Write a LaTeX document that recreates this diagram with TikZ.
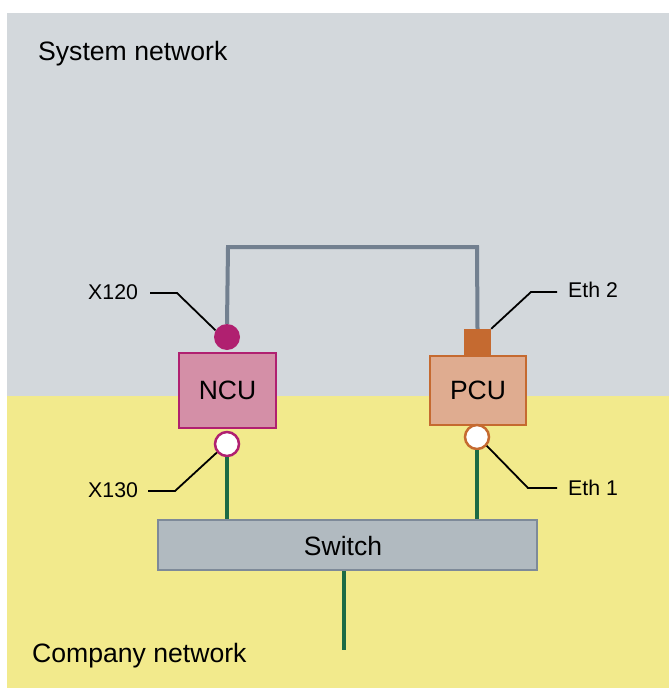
\documentclass[tikz,border=0pt]{standalone}
\usepackage{fontspec}
\setmainfont{Liberation Sans}
\definecolor{sysbg}{HTML}{D3D8DC}
\definecolor{combg}{HTML}{F2EA8C}
\definecolor{netgray}{HTML}{728090}
\definecolor{mag}{HTML}{B02070}
\definecolor{ncufill}{HTML}{D48FA7}
\definecolor{pcufill}{HTML}{DFAC90}
\definecolor{pcuedge}{HTML}{C56A30}
\definecolor{swfill}{HTML}{B1BAC0}
\definecolor{swedge}{HTML}{7E8A99}
\definecolor{netgreen}{HTML}{1C6B45}
\begin{document}
\begin{tikzpicture}[x=1pt,y=-1pt,
  bigtxt/.style={font=\fontsize{26.6}{30}\selectfont, anchor=base west, inner sep=0pt},
  lbl/.style={font=\fontsize{21.3}{25}\selectfont, anchor=base west, inner sep=0pt},
  unitbox/.style={draw, line width=2.5pt, minimum height=72pt, inner sep=0pt, font=\fontsize{26.5}{30}\selectfont},
  port/.style={circle, draw, line width=2.5pt, fill=white, minimum size=24pt, inner sep=0pt},
  leader/.style={draw=black, line width=1.8pt},
  grayline/.style={draw=netgray, line width=4pt},
  greenline/.style={draw=netgreen, line width=4pt}]
\useasboundingbox (0,0) rectangle (669,690);
% backgrounds
\fill[sysbg] (7,13) rectangle (669,396);
\fill[combg] (7,396) rectangle (669,688);
\node[bigtxt] (sysnet) at (38,61) {System network};
\node[bigtxt] (comnet) at (32,662) {Company network};
% units
\node[unitbox, draw=mag, fill=ncufill, minimum width=97pt, minimum height=75pt] (ncu) at (227.5,390.5) {NCU};
\node[unitbox, draw=pcuedge, fill=pcufill, minimum width=96pt, minimum height=69pt] (pcu) at (478,390.5) {PCU};
\node[circle, fill=mag, minimum size=26pt, inner sep=0pt] (x120) at (227,337) {};
\node[port, draw=mag] (x130) at (227,444) {};
\node[fill=pcuedge, minimum width=27pt, minimum height=27pt, inner sep=0pt] (eth2) at (477.5,342.5) {};
\node[port, draw=pcuedge] (eth1) at (477,437) {};
\node[draw=swedge, line width=2pt, fill=swfill, minimum width=379pt, minimum height=50pt, inner sep=0pt] (sw) at (347.5,545) {};
\node[font=\fontsize{26.5}{30}\selectfont, inner sep=0pt] (swlbl) at (343,546) {Switch};
% system network connector
\coordinate (tl) at (228,247);
\coordinate (tr) at (477,247);
\draw[grayline] (x120.north) -- (tl) -- (tr) -- (eth2.north);
% company network connectors
\coordinate (swout) at (344,650);
\draw[greenline] (x130.south) -- (x130.south |- sw.north);
\draw[greenline] (eth1.south) -- (eth1.south |- sw.north);
\draw[greenline] (sw.south -| swout) -- (swout);
% labels and leaders
\node[lbl] (lx120) at (88,299) {X120};
\node[lbl] (lx130) at (88,497) {X130};
\node[lbl] (leth2) at (568,297) {Eth 2};
\node[lbl] (leth1) at (568,495) {Eth 1};
\coordinate (a1) at (150,293); \coordinate (a2) at (177,293);
\draw[leader] (a1) -- (a2) -- (x120.150);
\coordinate (b1) at (148,491); \coordinate (b2) at (175,491);
\draw[leader] (b1) -- (b2) -- (x130.220);
\coordinate (c1) at (557,292); \coordinate (c2) at (531,292);
\draw[leader] (c1) -- (c2) -- (eth2.north east);
\coordinate (d1) at (557,488); \coordinate (d2) at (528,488);
\draw[leader] (d1) -- (d2) -- (eth1.-42);
\end{tikzpicture}
\end{document}
